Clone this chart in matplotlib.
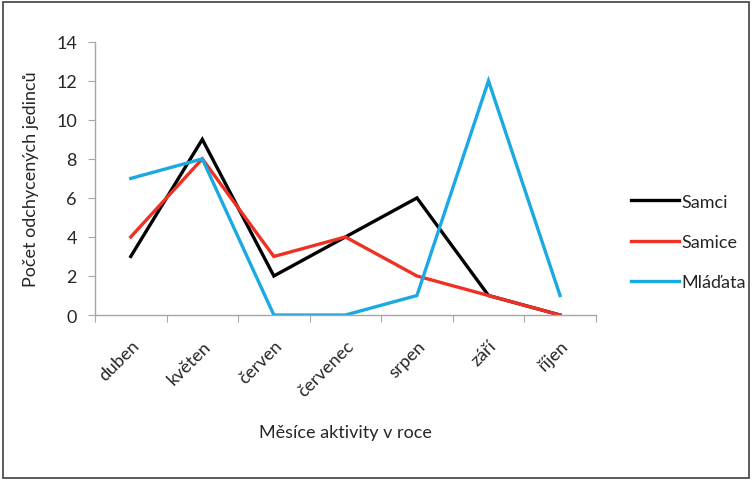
import matplotlib.pyplot as plt
from matplotlib.patches import Rectangle

plt.rcParams['font.family'] = ['Lato', 'DejaVu Sans']

# Data
mesice = ['duben', 'květen', 'červen', 'červenec', 'srpen', 'září', 'říjen']
samci = [3, 9, 2, 4, 6, 1, 0]
samice = [4, 8, 3, 4, 2, 1, 0]
mladata = [7, 8, 0, 0, 1, 12, 1]

fig = plt.figure(figsize=(7.52, 4.81), dpi=100)
ax = fig.add_axes([0.1263, 0.343, 0.666, 0.568])

x = range(len(mesice))
ax.plot(x, samci, color='black', lw=2.4, label='Samci', solid_joinstyle='miter')
ax.plot(x, samice, color='#EE3124', lw=2.4, label='Samice', solid_joinstyle='miter')
ax.plot(x, mladata, color='#1BA9E1', lw=2.4, label='Mláďata', solid_joinstyle='miter')

ax.set_xlim(-0.5, len(mesice) - 0.5)
ax.set_ylim(0, 14)
ax.set_yticks(range(0, 15, 2))

# Excel-style category ticks: marks between categories, labels at centres
ax.set_xticks([i - 0.5 for i in range(len(mesice) + 1)])
ax.set_xticklabels([])
ax.set_xticks(list(x), minor=True)
ax.set_xticklabels(mesice, minor=True, rotation=45, ha='right', va='top',
                   rotation_mode='anchor', fontsize=13, color='#262626')
ax.tick_params(axis='x', which='minor', length=0, pad=16)
ax.tick_params(axis='x', which='major', length=5, color='#A6A6A6')
ax.tick_params(axis='y', length=5, color='#A6A6A6', labelsize=13,
               labelcolor='#262626', pad=8)

for s in ['top', 'right']:
    ax.spines[s].set_visible(False)
for s in ['left', 'bottom']:
    ax.spines[s].set_color('#A6A6A6')
    ax.spines[s].set_linewidth(1.0)

ax.set_ylabel('Počet odchycených jedinců', fontsize=13, color='#262626', labelpad=12)
ax.set_xlabel('Měsíce aktivity v roce', fontsize=13, color='#262626', labelpad=18)

fig.legend(loc='center left', bbox_to_anchor=(0.818, 0.495), frameon=False,
           fontsize=13, handlelength=2.65, handletextpad=0.1, labelspacing=1.35,
           labelcolor='#262626')

fig.patches.append(Rectangle((0.004, 0.004), 0.992, 0.99, transform=fig.transFigure,
                             fill=False, edgecolor='#404040', lw=1.2))

fig.savefig('out.png', dpi=100)
